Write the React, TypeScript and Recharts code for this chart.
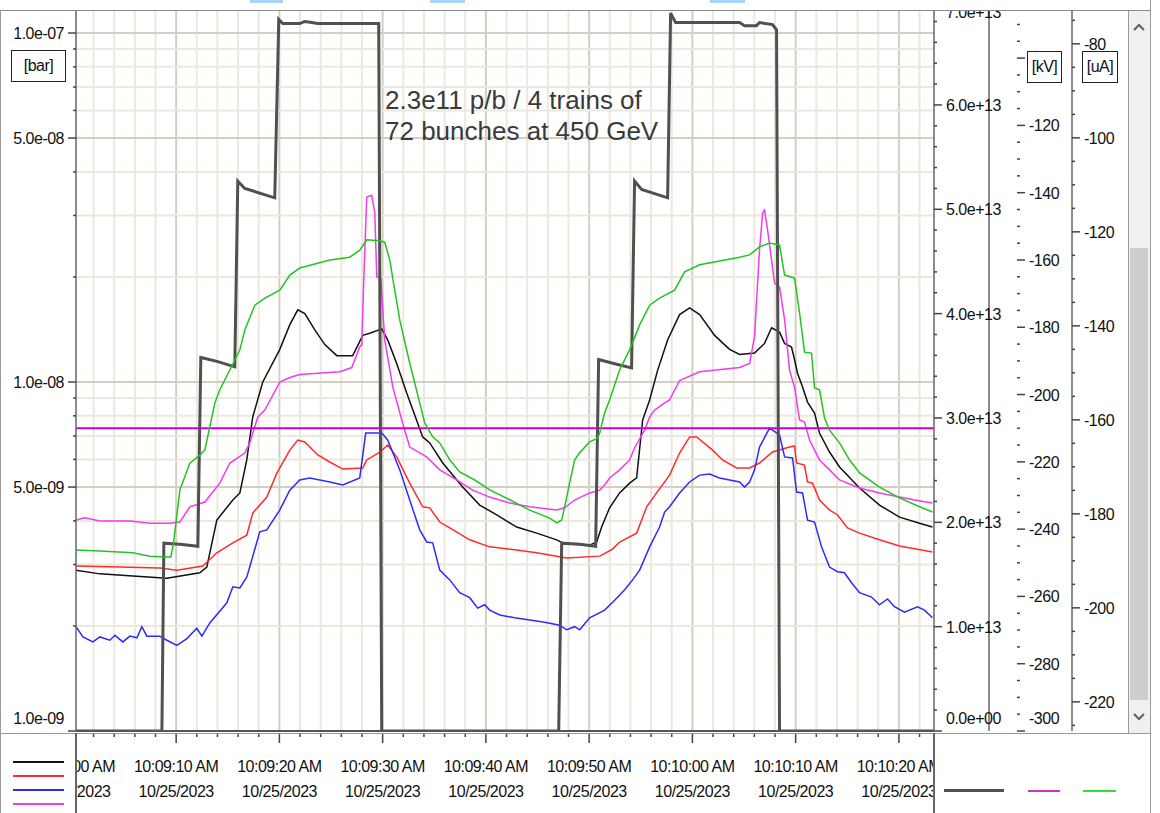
import { ComposedChart, Line, XAxis, YAxis, ReferenceLine } from "recharts";

const FONT = '"Liberation Sans", Arial, sans-serif';
const PLOT = { left: 76, right: 934, top: 10, bottom: 731 };

// time axis: seconds after 10:09:00 AM on 10/25/2023
const T0 = 0.3;
const T1 = 83.4;
const xTicks = [0, 2, 4, 6, 8, 10, 12, 14, 16, 18, 20, 22, 24, 26, 28, 30, 32, 34, 36, 38, 40, 42, 44, 46, 48, 50, 52, 54, 56, 58, 60, 62, 64, 66, 68, 70, 72, 74, 76, 78, 80, 82];
const dateLabel = "10/25/2023";

// left axis [bar], log scale
const barTicks = [1e-9, 2e-9, 3e-9, 4e-9, 5e-9, 6e-9, 7e-9, 8e-9, 9e-9, 1e-8, 2e-8, 3e-8, 4e-8, 5e-8, 6e-8, 7e-8, 8e-8, 9e-8, 1e-7];
// beam intensity axis
const nTicks = Array.from({ length: 36 }, (_, i) => i * 2e12);
// [kV] and [uA] axes
const kvTicks = Array.from({ length: 43 }, (_, i) => -300 + i * 5);
const uaTicks = Array.from({ length: 31 }, (_, i) => -225 + i * 5);

// beam intensity (p), thick grey
const beam: [number, number][] = [
  [0.3, 0], [8.62, 0], [8.81, 1.8e13], [10.36, 1.79e13], [12.1, 1.77e13], [12.39, 3.58e13], [14.04, 3.54e13],
  [15.68, 3.49e13], [15.97, 5.27e13], [16.65, 5.2e13], [19.55, 5.11e13], [19.94, 6.82e13], [20.33, 6.78e13],
  [21.97, 6.78e13], [22.46, 6.8e13], [23.14, 6.79e13], [23.7, 6.78e13], [29.62, 6.78e13], [29.91, 0],
  [47.05, 0], [47.34, 1.8e13], [49.08, 1.79e13], [50.63, 1.77e13], [50.92, 3.56e13], [52.47, 3.52e13],
  [54.11, 3.48e13], [54.4, 5.27e13], [55.08, 5.19e13], [57.6, 5.11e13], [57.89, 6.88e13], [58.37, 6.79e13],
  [64.57, 6.79e13], [65.05, 6.76e13], [66.2, 6.76e13], [66.5, 6.79e13], [67.76, 6.77e13], [68.15, 6.72e13],
  [68.44, 0], [83.4, 0],
];

// pressures [bar]
const gaugeBlack: [number, number][] = [
  [0.3, 2.89e-9], [2.61, 2.82e-9], [5.81, 2.78e-9], [9.1, 2.74e-9], [12.29, 2.84e-9], [12.97, 2.95e-9],
  [13.94, 4.02e-9], [15.49, 4.59e-9], [16.17, 4.81e-9], [16.84, 5.98e-9], [17.42, 7.94e-9], [18.39, 1.0e-8],
  [20.04, 1.24e-8], [21.01, 1.46e-8], [21.78, 1.61e-8], [22.46, 1.57e-8], [23.43, 1.41e-8], [24.4, 1.28e-8],
  [25.56, 1.19e-8], [27.1, 1.19e-8], [28.07, 1.36e-8], [28.75, 1.38e-8], [29.91, 1.42e-8], [30.49, 1.32e-8],
  [31.36, 1.13e-8], [32.33, 9.3e-9], [33.88, 6.96e-9], [34.56, 6.69e-9], [35.82, 5.86e-9], [37.75, 5.0e-9],
  [39.4, 4.44e-9], [41.05, 4.16e-9], [42.98, 3.84e-9], [44.92, 3.69e-9], [46.85, 3.53e-9], [47.43, 3.46e-9],
  [48.6, 3.43e-9], [50.05, 3.41e-9], [50.73, 3.48e-9], [51.21, 3.84e-9], [51.98, 4.36e-9], [52.95, 4.81e-9],
  [53.92, 5.13e-9], [54.6, 5.31e-9], [55.18, 7.78e-9], [55.86, 8.88e-9], [56.63, 1.08e-8], [57.6, 1.32e-8],
  [58.76, 1.56e-8], [59.73, 1.63e-8], [60.7, 1.56e-8], [62.15, 1.36e-8], [63.6, 1.24e-8], [64.57, 1.2e-8],
  [66.02, 1.21e-8], [66.99, 1.29e-8], [67.67, 1.43e-8], [68.44, 1.39e-8], [68.93, 1.29e-8], [69.6, 1.26e-8],
  [69.89, 1.16e-8], [70.18, 1.06e-8], [70.67, 9.68e-9], [71.15, 8.76e-9], [71.83, 8.15e-9], [72.31, 7.14e-9],
  [73.28, 6.3e-9], [74.25, 5.71e-9], [76.19, 4.97e-9], [78.12, 4.44e-9], [80.06, 4.1e-9], [82.0, 3.94e-9],
  [83.25, 3.84e-9],
];

const gaugeRed: [number, number][] = [
  [0.3, 2.97e-9], [4.55, 2.95e-9], [8.42, 2.93e-9], [10.07, 2.89e-9], [12.58, 2.97e-9], [13.94, 3.24e-9],
  [15.49, 3.46e-9], [16.84, 3.64e-9], [17.42, 4.21e-9], [18.78, 4.68e-9], [19.75, 5.48e-9], [21.01, 6.38e-9],
  [21.78, 6.82e-9], [22.46, 6.73e-9], [23.72, 6.18e-9], [24.88, 5.9e-9], [26.14, 5.63e-9], [28.07, 5.67e-9],
  [28.46, 5.98e-9], [29.72, 6.3e-9], [30.49, 6.6e-9], [31.36, 6.1e-9], [32.62, 5.13e-9], [33.88, 4.39e-9],
  [34.56, 4.36e-9], [35.53, 3.97e-9], [36.5, 3.82e-9], [38.43, 3.53e-9], [40.37, 3.37e-9], [42.98, 3.3e-9],
  [44.92, 3.24e-9], [47.82, 3.13e-9], [51.02, 3.17e-9], [52.27, 3.32e-9], [52.95, 3.48e-9], [54.6, 3.69e-9],
  [55.57, 4.39e-9], [56.53, 4.81e-9], [57.79, 5.41e-9], [58.76, 6.26e-9], [59.73, 6.96e-9], [60.41, 6.96e-9],
  [61.96, 6.38e-9], [62.92, 5.98e-9], [64.28, 5.67e-9], [65.54, 5.67e-9], [66.5, 5.86e-9], [67.76, 6.3e-9],
  [69.41, 6.51e-9], [69.89, 6.56e-9], [70.09, 5.86e-9], [70.86, 5.78e-9], [71.15, 5.17e-9], [71.64, 5.13e-9],
  [72.31, 4.59e-9], [73.28, 4.3e-9], [74.06, 4.16e-9], [75.02, 3.82e-9], [76.19, 3.69e-9], [78.12, 3.53e-9],
  [80.06, 3.39e-9], [83.25, 3.26e-9],
];

const gaugeBlue: [number, number][] = [
  [0.3, 1.99e-9], [0.97, 1.86e-9], [1.94, 1.8e-9], [2.61, 1.86e-9], [3.58, 1.82e-9], [4.07, 1.88e-9],
  [4.84, 1.8e-9], [5.52, 1.87e-9], [6.2, 1.85e-9], [6.68, 1.99e-9], [7.16, 1.87e-9], [8.42, 1.87e-9],
  [9.1, 1.82e-9], [10.07, 1.76e-9], [11.04, 1.84e-9], [12.0, 1.97e-9], [12.49, 1.87e-9], [13.26, 2.04e-9],
  [14.91, 2.33e-9], [15.49, 2.59e-9], [16.17, 2.57e-9], [16.84, 2.76e-9], [18.1, 3.72e-9], [18.78, 3.77e-9],
  [20.04, 4.3e-9], [21.01, 4.9e-9], [21.97, 5.24e-9], [22.94, 5.31e-9], [24.88, 5.17e-9], [26.14, 5.07e-9],
  [27.78, 5.31e-9], [28.36, 7.14e-9], [29.91, 7.14e-9], [30.49, 6.82e-9], [31.66, 5.6e-9], [32.62, 4.59e-9],
  [33.59, 3.77e-9], [34.27, 3.48e-9], [34.85, 3.46e-9], [35.53, 2.89e-9], [36.5, 2.71e-9], [37.46, 2.49e-9],
  [38.43, 2.41e-9], [39.21, 2.25e-9], [39.88, 2.3e-9], [40.37, 2.22e-9], [41.34, 2.15e-9], [42.79, 2.11e-9],
  [44.24, 2.08e-9], [45.69, 2.05e-9], [47.14, 2.01e-9], [47.82, 1.95e-9], [48.6, 1.99e-9], [49.08, 1.95e-9],
  [50.05, 2.11e-9], [51.5, 2.22e-9], [52.47, 2.37e-9], [53.44, 2.54e-9], [54.21, 2.71e-9], [54.89, 2.89e-9],
  [55.86, 3.37e-9], [56.82, 3.84e-9], [57.31, 4.24e-9], [57.79, 4.39e-9], [58.76, 4.81e-9], [59.73, 5.17e-9],
  [60.7, 5.41e-9], [61.67, 5.45e-9], [62.63, 5.31e-9], [64.57, 5.17e-9], [65.05, 5.0e-9], [65.54, 5.17e-9],
  [66.02, 5.6e-9], [66.5, 6.51e-9], [67.47, 7.38e-9], [68.44, 7.05e-9], [68.93, 6.1e-9], [69.7, 6.06e-9],
  [70.09, 4.84e-9], [70.67, 4.81e-9], [71.15, 4.02e-9], [71.83, 3.97e-9], [72.51, 3.37e-9], [73.28, 2.95e-9],
  [74.06, 2.86e-9], [74.73, 2.84e-9], [75.41, 2.66e-9], [76.19, 2.49e-9], [77.35, 2.42e-9], [78.12, 2.3e-9],
  [78.9, 2.39e-9], [79.57, 2.27e-9], [80.54, 2.19e-9], [81.8, 2.27e-9], [82.48, 2.22e-9], [83.25, 2.11e-9],
];

const gaugeMagenta: [number, number][] = [
  [0.3, 4.02e-9], [1.16, 4.08e-9], [2.61, 4.0e-9], [5.52, 4.0e-9], [7.45, 3.94e-9], [9.39, 3.94e-9],
  [10.36, 3.97e-9], [11.33, 4.39e-9], [12.78, 4.53e-9], [14.23, 5.13e-9], [15.2, 5.86e-9], [16.65, 6.26e-9],
  [17.13, 6.69e-9], [17.91, 7.94e-9], [18.59, 8.31e-9], [20.04, 1.0e-8], [21.01, 1.03e-8], [21.97, 1.05e-8],
  [25.85, 1.07e-8], [27.01, 1.1e-8], [27.78, 1.26e-8], [27.98, 1.28e-8], [28.17, 1.96e-8], [28.46, 3.39e-8],
  [28.94, 3.43e-8], [29.24, 3.05e-8], [29.43, 2.0e-8], [29.82, 1.99e-8], [30.2, 1.32e-8], [30.98, 9.68e-9],
  [31.85, 7.78e-9], [32.62, 6.51e-9], [34.27, 6.1e-9], [35.53, 5.6e-9], [37.17, 5.24e-9], [38.72, 4.9e-9],
  [40.37, 4.68e-9], [42.3, 4.5e-9], [44.24, 4.39e-9], [46.85, 4.3e-9], [47.63, 4.36e-9], [48.6, 4.59e-9],
  [50.05, 4.81e-9], [51.02, 4.9e-9], [51.5, 5.07e-9], [51.98, 5.31e-9], [52.95, 5.6e-9], [53.92, 5.98e-9],
  [54.4, 6.47e-9], [55.37, 7.28e-9], [55.86, 7.94e-9], [56.34, 8.31e-9], [57.31, 8.71e-9], [57.79, 8.88e-9],
  [58.76, 1.01e-8], [60.7, 1.07e-8], [64.57, 1.1e-8], [65.54, 1.13e-8], [66.02, 1.35e-8], [66.5, 2.39e-8],
  [66.8, 3.05e-8], [66.99, 3.11e-8], [67.28, 2.73e-8], [67.96, 1.92e-8], [68.44, 1.87e-8], [68.93, 1.51e-8],
  [69.41, 1.08e-8], [69.89, 9.68e-9], [70.38, 7.78e-9], [70.86, 7.68e-9], [71.35, 6.82e-9], [72.31, 5.98e-9],
  [73.28, 5.6e-9], [74.25, 5.24e-9], [76.19, 4.97e-9], [78.12, 4.81e-9], [80.06, 4.68e-9], [81.51, 4.59e-9],
  [83.25, 4.5e-9],
];

// [uA], green
const currentGreen: [number, number][] = [
  [0.3, -187.7], [2.61, -187.9], [5.81, -188.3], [7.45, -189.0], [9.2, -189.2], [9.49, -189.2], [9.78, -185.6],
  [10.36, -174.9], [11.33, -169.2], [12.29, -167.5], [12.78, -166.4], [13.26, -161.5], [13.75, -156.4],
  [14.23, -153.6], [15.2, -149.4], [16.17, -145.1], [16.65, -140.9], [17.62, -135.6], [18.59, -134.1],
  [20.04, -132.4], [21.01, -129.2], [21.97, -127.7], [24.88, -126.0], [26.81, -125.4], [27.78, -123.9],
  [28.46, -121.7], [29.72, -121.9], [30.2, -122.2], [30.69, -126.0], [31.17, -132.4], [31.66, -138.8],
  [32.62, -147.9], [33.59, -156.4], [34.08, -160.7], [34.85, -163.6], [35.53, -164.9], [36.5, -168.5],
  [37.46, -171.1], [38.92, -172.8], [40.37, -174.9], [42.3, -177.0], [44.24, -179.2], [46.18, -180.9],
  [46.85, -181.9], [47.34, -181.3], [47.63, -178.5], [48.11, -173.4], [48.6, -168.5], [49.08, -167.0],
  [50.05, -164.7], [50.82, -163.9], [51.02, -162.8], [51.5, -158.5], [51.98, -155.8], [52.95, -149.4],
  [53.92, -145.1], [54.89, -139.8], [55.86, -135.6], [56.82, -134.1], [58.28, -132.4], [59.25, -128.5],
  [60.7, -127.0], [64.57, -125.4], [65.54, -124.9], [66.5, -123.2], [67.47, -122.4], [68.44, -122.8],
  [68.93, -129.2], [69.89, -129.8], [70.38, -137.3], [70.86, -145.6], [71.54, -145.8], [71.83, -153.2],
  [72.31, -153.6], [72.8, -159.6], [73.28, -162.2], [74.25, -164.9], [75.21, -168.5], [76.19, -171.3],
  [78.12, -174.3], [80.06, -176.6], [82.0, -178.5], [83.25, -179.6],
];

// [kV], flat magenta
const voltageMagenta: [number, number][] = [[0.3, -210], [83.4, -210]];

const rows = (pts: [number, number][]) => pts.map(([t, v]) => ({ t, v }));

const fmtExp = (v: number) => {
  if (v === 0) return "0.0e+00";
  const e = Math.floor(Math.log10(v) + 1e-9);
  const m = v / Math.pow(10, e);
  return `${m.toFixed(1)}e${e < 0 ? "-" : "+"}${String(Math.abs(e)).padStart(2, "0")}`;
};

const fmtTime = (t: number) => {
  const mm = 9 + Math.floor(t / 60);
  const ss = t % 60;
  return `10:${String(mm).padStart(2, "0")}:${String(ss).padStart(2, "0")} AM`;
};

const mantissa = (v: number) => Math.round(v / Math.pow(10, Math.floor(Math.log10(v) + 1e-9)));

const TXT = { fontSize: 16, fontFamily: FONT, fill: "#111", letterSpacing: -0.5 };

function TimeTick(props: any) {
  const { x, payload, index } = props;
  const t = payload.value as number;
  const major = t % 10 === 0;
  const id = `xclip${index}`;
  return (
    <g>
      <defs>
        <clipPath id={id}>
          <rect x={PLOT.left} y={PLOT.bottom} width={PLOT.right - PLOT.left} height={90} />
        </clipPath>
      </defs>
      <g clipPath={`url(#${id})`}>
        <line x1={x} x2={x} y1={PLOT.bottom + 2} y2={PLOT.bottom + (major ? 12 : 6)} stroke="#444" strokeWidth={1.5} />
        {major && (
          <text x={x} textAnchor="middle" {...TXT}>
            <tspan x={x} y={772}>{fmtTime(t)}</tspan>
            <tspan x={x} y={797}>{dateLabel}</tspan>
          </text>
        )}
      </g>
    </g>
  );
}

function BarTick(props: any) {
  const { y, payload } = props;
  const v = payload.value as number;
  const m = mantissa(v);
  const major = m === 1 || m === 5;
  const ly = Math.min(y, PLOT.bottom - 13);
  return (
    <g>
      <line x1={PLOT.left - (major ? 8 : 3)} x2={PLOT.left} y1={y} y2={y} stroke="#444" strokeWidth={1.5} />
      {major && (
        <text x={PLOT.left - 12} y={ly + 6} textAnchor="end" {...TXT}>
          {fmtExp(v)}
        </text>
      )}
    </g>
  );
}

function rightTick(axisX: number, isMajor: (v: number) => boolean, fmt: (v: number) => string, key: string, hideAbove = 0) {
  return (props: any) => {
    const { y, payload, index } = props;
    const v = payload.value as number;
    const major = isMajor(v);
    const ly = Math.min(Math.max(y, 12), PLOT.bottom - 13);
    const id = `${key}clip${index}`;
    return (
      <g>
        <defs>
          <clipPath id={id}>
            <rect x={axisX - 2} y={PLOT.top + 1} width={110} height={800} />
          </clipPath>
        </defs>
        <g clipPath={`url(#${id})`}>
          <line x1={axisX} x2={axisX + (major ? 8 : 3)} y1={y} y2={y} stroke="#444" strokeWidth={1.5} />
          {major && y > hideAbove && (
            <text x={axisX + 12} y={ly + 6} textAnchor="start" {...TXT}>
              {fmt(v)}
            </text>
          )}
        </g>
      </g>
    );
  };
}

const NTick = rightTick(PLOT.right, (v) => Math.round(v / 1e12) % 10 === 0, fmtExp, "n");
// the -100 kV label sits under the [kV] unit box
const KvTick = rightTick(1017, (v) => v % 20 === 0, (v) => String(v), "kv", 85);
const UaTick = rightTick(1072, (v) => v % 20 === 0, (v) => String(v), "ua");

const GRID_MINOR = "#ebe8dd";
const GRID_MAJOR = "#d3cfc1";
const AXIS_LINE = { stroke: "#666", strokeWidth: 1.5 };

const abs = (l: number, t: number, w: number, h: number, extra: any = {}) => ({
  position: "absolute" as const, left: l, top: t, width: w, height: h, ...extra,
});

function UnitBox({ x, y, w, label }: { x: number; y: number; w: number; label: string }) {
  return (
    <div style={abs(x, y, w, 32, { border: "1.5px solid #222", background: "#fff", boxSizing: "border-box", fontFamily: FONT, fontSize: 16, letterSpacing: -0.5, color: "#111", display: "flex", alignItems: "center", justifyContent: "center" })}>
      {label}
    </div>
  );
}

export default function App() {
  return (
    <div style={{ position: "absolute", left: 0, top: 0, width: 1160, height: 813, background: "#fff", overflow: "hidden" }}>
      <ComposedChart width={1160} height={813} margin={{ top: 10, right: 32, bottom: 0, left: 0 }}>
        <XAxis type="number" dataKey="t" domain={[T0, T1]} allowDataOverflow ticks={xTicks} interval={0}
          height={82} tickLine={false} axisLine={{ stroke: "#555", strokeWidth: 2 }} tick={TimeTick} />
        <YAxis yAxisId="p" scale="log" type="number" domain={[1e-9, 1.164e-7]} allowDataOverflow ticks={barTicks}
          interval={0} width={76} tickLine={false} axisLine={AXIS_LINE} tick={BarTick} />
        <YAxis yAxisId="n" orientation="right" type="number" domain={[0, 6.91e13]} allowDataOverflow ticks={nTicks}
          interval={0} width={83} tickLine={false} axisLine={AXIS_LINE} tick={NTick} />
        <YAxis yAxisId="kv" orientation="right" type="number" domain={[-300, -85.7]} allowDataOverflow ticks={kvTicks}
          interval={0} width={55} tickLine={false} axisLine={AXIS_LINE} tick={KvTick} />
        <YAxis yAxisId="ua" orientation="right" type="number" domain={[-226.2, -72.8]} allowDataOverflow ticks={uaTicks}
          interval={0} width={56} tickLine={false} axisLine={AXIS_LINE} tick={UaTick} />

        {xTicks.filter((t) => t > T0).map((t) => (
          <ReferenceLine key={`vx${t}`} x={t} yAxisId="p" stroke={t % 10 === 0 ? GRID_MAJOR : GRID_MINOR} strokeWidth={2} />
        ))}
        {barTicks.map((v) => (
          <ReferenceLine key={`hy${v}`} y={v} yAxisId="p"
            stroke={mantissa(v) === 1 || mantissa(v) === 5 ? GRID_MAJOR : GRID_MINOR} strokeWidth={2} />
        ))}

        <Line yAxisId="p" data={rows(gaugeBlack)} dataKey="v" stroke="#111" strokeWidth={1.5} dot={false} isAnimationActive={false} />
        <Line yAxisId="p" data={rows(gaugeRed)} dataKey="v" stroke="#ff2b2b" strokeWidth={1.5} dot={false} isAnimationActive={false} />
        <Line yAxisId="p" data={rows(gaugeBlue)} dataKey="v" stroke="#2b2bff" strokeWidth={1.5} dot={false} isAnimationActive={false} />
        <Line yAxisId="p" data={rows(gaugeMagenta)} dataKey="v" stroke="#f03cf0" strokeWidth={1.5} dot={false} isAnimationActive={false} />
        <Line yAxisId="n" data={rows(beam)} dataKey="v" stroke="#505050" strokeWidth={3} dot={false} isAnimationActive={false} />
        <Line yAxisId="kv" data={rows(voltageMagenta)} dataKey="v" stroke="#cc00cc" strokeWidth={2} dot={false} isAnimationActive={false} />
        <Line yAxisId="ua" data={rows(currentGreen)} dataKey="v" stroke="#22c422" strokeWidth={1.5} dot={false} isAnimationActive={false} />
      </ComposedChart>

      {/* frame */}
      <div style={abs(0, 10, 1150, 1, { background: "#8a8a8a" })} />
      <div style={abs(0, 10, 1, 803, { background: "#999" })} />
      <div style={abs(0, 733, 1150, 1, { background: "#999" })} />
      <div style={abs(75, 733, 2, 80, { background: "#666" })} />
      <div style={abs(933, 733, 2, 80, { background: "#666" })} />
      <div style={abs(1150, 0, 1, 813, { background: "#999" })} />
      <div style={abs(250, 0, 33, 3, { background: "#a9d5f5" })} />
      <div style={abs(430, 0, 35, 3, { background: "#a9d5f5" })} />
      <div style={abs(710, 0, 35, 3, { background: "#a9d5f5" })} />

      {/* scrollbar */}
      <div style={abs(1128, 11, 22, 722, { background: "#f0f0f0", borderLeft: "1px solid #999", boxSizing: "border-box" })} />
      <div style={abs(1130, 248, 18, 452, { background: "#cdcdcd" })} />
      <svg style={abs(1133, 22, 12, 10)} width={12} height={10}>
        <polyline points="1,8 6,3 11,8" fill="none" stroke="#606060" strokeWidth={2} />
      </svg>
      <svg style={abs(1133, 712, 12, 10)} width={12} height={10}>
        <polyline points="1,2 6,7 11,2" fill="none" stroke="#606060" strokeWidth={2} />
      </svg>

      {/* unit boxes */}
      <UnitBox x={11} y={50} w={55} label="[bar]" />
      <UnitBox x={1027} y={51} w={35} label="[kV]" />
      <UnitBox x={1082} y={51} w={36} label="[uA]" />

      {/* annotation */}
      <div style={abs(385, 85, 320, 62, { fontFamily: FONT, fontSize: 26, lineHeight: "31px", color: "#3a3a3a", whiteSpace: "nowrap" })}>
        2.3e11 p/b / 4 trains of<br />72 bunches at 450 GeV
      </div>

      {/* legends */}
      <div style={abs(13, 761, 51, 2, { background: "#111" })} />
      <div style={abs(13, 775, 51, 2, { background: "#ff2b2b" })} />
      <div style={abs(13, 789, 51, 2, { background: "#2b2bff" })} />
      <div style={abs(13, 803, 51, 2, { background: "#f03cf0" })} />
      <div style={abs(944, 789, 60, 3, { background: "#505050" })} />
      <div style={abs(1028, 790, 32, 2, { background: "#cc33cc" })} />
      <div style={abs(1083, 790, 33, 2, { background: "#33dd33" })} />
    </div>
  );
}
